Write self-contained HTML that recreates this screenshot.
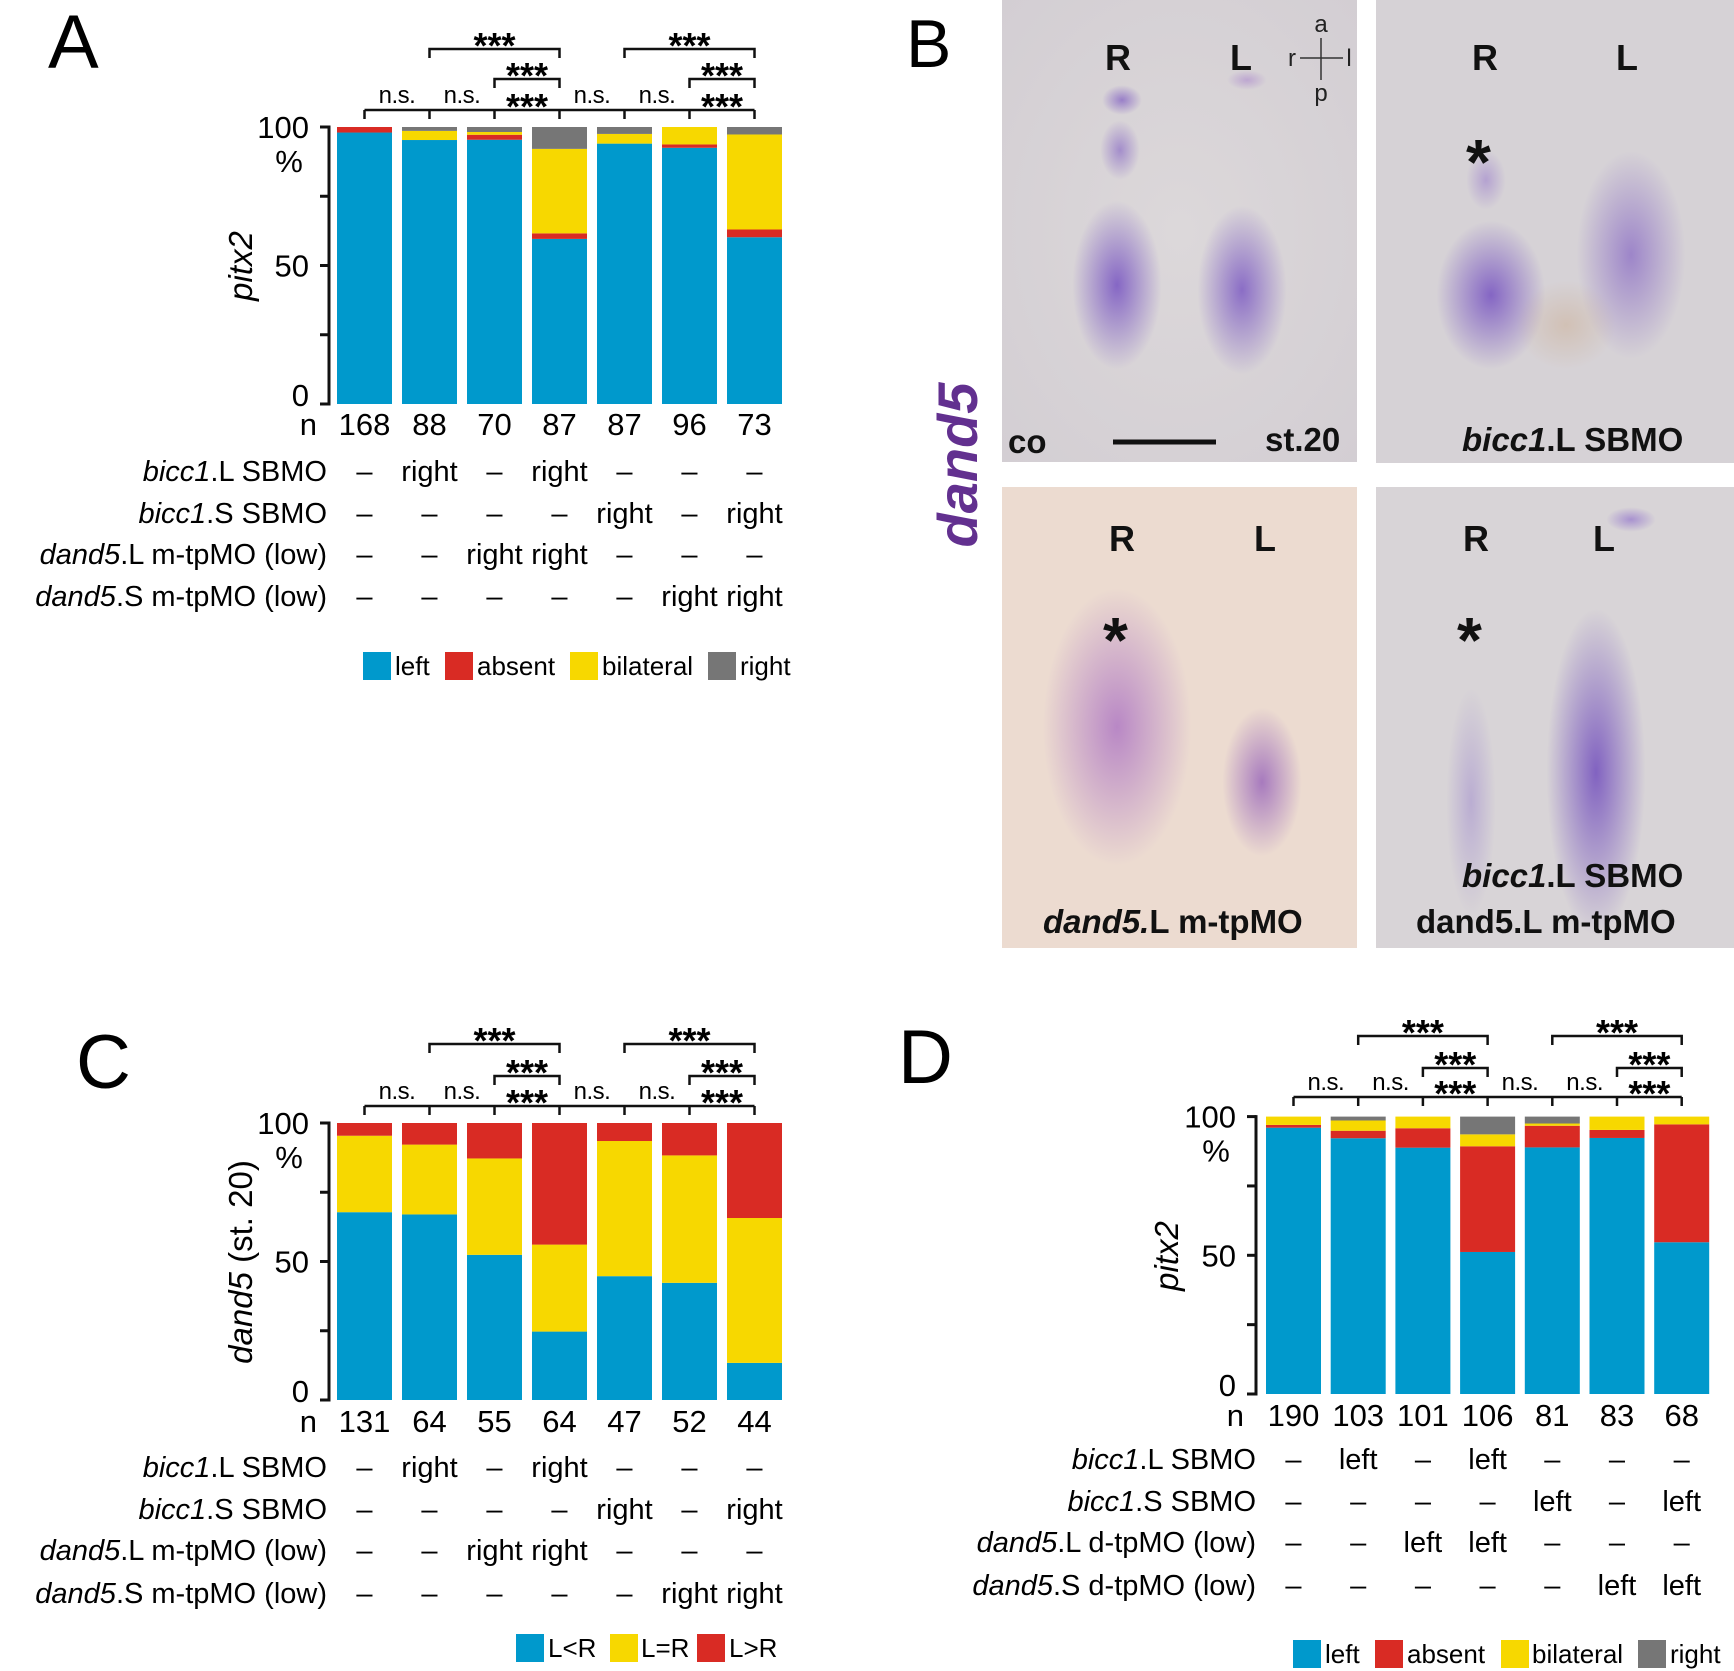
<!DOCTYPE html>
<html><head><meta charset="utf-8">
<style>
html,body{margin:0;padding:0;background:#fff;}
body{width:1734px;height:1671px;position:relative;overflow:hidden;font-family:"Liberation Sans",Arial,sans-serif;}
svg{position:absolute;left:0;top:0;}
.panel{position:absolute;overflow:hidden;}
.blob{position:absolute;border-radius:50%;}
.lbl{position:absolute;font-family:"Liberation Sans",sans-serif;font-weight:bold;color:#111;line-height:1;white-space:nowrap;}
</style></head>
<body>
<div class="panel" style="left:1002px;top:0;width:355px;height:462px;background:radial-gradient(ellipse at 50% 50%,#dcd8da,#d3ced3);">
  <div class="blob" style="left:100px;top:85px;width:40px;height:30px;background:radial-gradient(rgba(110,70,190,.6),rgba(110,70,190,0) 70%);"></div>
  <div class="blob" style="left:98px;top:120px;width:40px;height:60px;background:radial-gradient(rgba(110,70,190,.5),rgba(110,70,190,0) 70%);"></div>
  <div class="blob" style="left:70px;top:200px;width:90px;height:170px;background:radial-gradient(rgba(105,65,190,.75),rgba(110,70,190,0) 70%);"></div>
  <div class="blob" style="left:195px;top:205px;width:90px;height:170px;background:radial-gradient(rgba(105,65,190,.7),rgba(110,70,190,0) 70%);"></div>
  <div class="blob" style="left:225px;top:70px;width:40px;height:20px;background:radial-gradient(rgba(150,100,200,.4),rgba(150,100,200,0) 70%);"></div>
</div>
<div class="panel" style="left:1376px;top:0;width:358px;height:463px;background:#d6d2d6;">
  <div class="blob" style="left:60px;top:220px;width:110px;height:150px;background:radial-gradient(rgba(105,65,190,.75),rgba(110,70,190,0) 70%);"></div>
  <div class="blob" style="left:90px;top:150px;width:40px;height:60px;background:radial-gradient(rgba(130,90,200,.4),rgba(130,90,200,0) 70%);"></div>
  <div class="blob" style="left:200px;top:150px;width:110px;height:210px;background:radial-gradient(rgba(110,70,190,.55),rgba(110,70,190,0) 70%);"></div>
  <div class="blob" style="left:140px;top:280px;width:100px;height:90px;background:radial-gradient(rgba(200,160,120,.35),rgba(200,160,120,0) 70%);"></div>
</div>
<div class="panel" style="left:1002px;top:487px;width:355px;height:461px;background:#ecdbd0;">
  <div class="blob" style="left:40px;top:100px;width:150px;height:280px;background:radial-gradient(rgba(150,80,190,.6),rgba(150,80,190,0) 70%);"></div>
  <div class="blob" style="left:220px;top:220px;width:80px;height:150px;background:radial-gradient(rgba(130,70,180,.65),rgba(130,70,180,0) 70%);"></div>
</div>
<div class="panel" style="left:1376px;top:487px;width:358px;height:461px;background:#d8d4d7;">
  <div class="blob" style="left:170px;top:120px;width:100px;height:330px;background:radial-gradient(rgba(100,60,185,.75),rgba(110,70,190,0) 70%);"></div>
  <div class="blob" style="left:230px;top:20px;width:50px;height:25px;background:radial-gradient(rgba(120,80,200,.5),rgba(120,80,200,0) 70%);"></div>
  <div class="blob" style="left:70px;top:200px;width:50px;height:230px;background:radial-gradient(rgba(130,100,200,.35),rgba(130,100,200,0) 70%);"></div>
</div>
<div class="lbl" style="left:1105px;top:40px;font-size:36px;">R</div>
<div class="lbl" style="left:1230px;top:40px;font-size:36px;">L</div>
<div class="lbl" style="left:1472px;top:40px;font-size:36px;">R</div>
<div class="lbl" style="left:1616px;top:40px;font-size:36px;">L</div>
<div class="lbl" style="left:1109px;top:521px;font-size:36px;">R</div>
<div class="lbl" style="left:1254px;top:521px;font-size:36px;">L</div>
<div class="lbl" style="left:1463px;top:521px;font-size:36px;">R</div>
<div class="lbl" style="left:1593px;top:521px;font-size:36px;">L</div>
<div class="lbl" style="left:1466px;top:130px;font-size:64px;">*</div>
<div class="lbl" style="left:1103px;top:608px;font-size:64px;">*</div>
<div class="lbl" style="left:1457px;top:608px;font-size:64px;">*</div>
<div class="lbl" style="left:1008px;top:425px;font-size:33px;">co</div>
<div class="lbl" style="left:1265px;top:423px;font-size:33px;">st.20</div>
<div class="lbl" style="left:1462px;top:423px;font-size:33px;"><i>bicc1</i>.L SBMO</div>
<div class="lbl" style="left:1043px;top:905px;font-size:33px;"><i>dand5.</i>L m-tpMO</div>
<div class="lbl" style="left:1462px;top:859px;font-size:33px;"><i>bicc1</i>.L SBMO</div>
<div class="lbl" style="left:1416px;top:905px;font-size:33px;">dand5.L m-tpMO</div>

<svg id="fig" width="1734" height="1671" xmlns="http://www.w3.org/2000/svg" font-family="Liberation Sans, Arial, sans-serif">
  <text x="48" y="68" font-size="76">A</text>
  <text x="906" y="67" font-size="68">B</text>
  <text x="76" y="1088" font-size="76">C</text>
  <text x="898" y="1083" font-size="76">D</text>
  <text transform="translate(977,465) rotate(-90)" text-anchor="middle" font-size="56" font-weight="bold" font-style="italic" fill="#62308f">dand5</text>
  <g><line x1="1113" y1="442" x2="1216" y2="442" stroke="#111" stroke-width="5"/></g>
  <g font-size="24" fill="#222">
    <line x1="1300" y1="58" x2="1343" y2="58" stroke="#333" stroke-width="1.5"/>
    <line x1="1321" y1="38" x2="1321" y2="80" stroke="#333" stroke-width="1.5"/>
    <text x="1321" y="32" text-anchor="middle">a</text>
    <text x="1321" y="101" text-anchor="middle">p</text>
    <text x="1292" y="66" text-anchor="middle">r</text>
    <text x="1349" y="66" text-anchor="middle">l</text>
  </g>
  <g id="chartA"></g>
  <g id="chartC"></g>
  <g id="chartD"></g>
</svg>
<script>
const catsA = ["1","2","3","4","5","6","7"];
const nA = ["168","88","70","87","87","96","73"];
const leftA = [98, 95.3, 95.4, 59.6, 94, 92.5, 60.2];
const absentA = [2, 0, 1.8, 2, 0, 1.2, 2.8];
const bilatA = [0, 3.3, 1, 30.5, 3.5, 6.3, 34.3];
const rightA = [0, 1.4, 1.8, 7.9, 2.5, 0, 2.7];
const nC = ["131","64","55","64","47","52","44"];
const ltrC = [67.8, 67.0, 52.4, 24.7, 44.7, 42.3, 13.4];
const eqC = [27.6, 25.2, 34.8, 31.4, 48.8, 46.0, 52.3];
const gtrC = [4.6, 7.8, 12.8, 43.9, 6.5, 11.7, 34.3];
const nD = ["190","103","101","106","81","83","68"];
const leftD = [96, 92.2, 88.8, 51.2, 88.9, 92.3, 54.7];
const absentD = [1, 2.7, 7.0, 38.1, 7.8, 2.9, 42.5];
const bilatD = [3, 3.7, 4.2, 4.3, 0.8, 4.8, 2.8];
const rightD = [0, 1.4, 0, 6.4, 2.5, 0, 0];
const yTicks = [0, 25, 50, 75, 100];
const yTickLabels = ["0", "", "50", "", "100"];
const lowerLabels = ["n.s.","n.s.","***","n.s.","n.s.","***"];
const rowsRight = [
  ["–","right","–","right","–","–","–"],
  ["–","–","–","–","right","–","right"],
  ["–","–","right","right","–","–","–"],
  ["–","–","–","–","–","right","right"]];
const rowsLeft = [
  ["–","left","–","left","–","–","–"],
  ["–","–","–","–","left","–","left"],
  ["–","–","left","left","–","–","–"],
  ["–","–","–","–","–","left","left"]];

const NS = "http://www.w3.org/2000/svg";
const COL = {blue:"#0099cc", red:"#d92b24", yellow:"#f7d800", grey:"#767676"};
function mk(parent, tag, attrs, txt){
  const e = document.createElementNS(NS, tag);
  for (const k in attrs) e.setAttribute(k, attrs[k]);
  if (txt !== undefined) e.textContent = txt;
  parent.appendChild(e);
  return e;
}
function chart(g, cfg){
  const yScale = v => cfg.y0 - (cfg.y0 - cfg.y100) * v / 100;
  const xCenter = i => cfg.x0 + cfg.bw/2 + i * cfg.pitch;
  cfg.series.forEach((s, si) => {
    s.vals.forEach((v, i) => {
      let base = 0;
      for (let k = 0; k < si; k++) base += cfg.series[k].vals[i];
      if (v <= 0) return;
      const r = mk(g, "rect", {x: cfg.x0 + i*cfg.pitch, y: yScale(base+v), width: cfg.bw, height: yScale(base)-yScale(base+v), fill: s.color});
      
      
    });
  });
  const ax = mk(g, "g", {stroke:"#111", "stroke-width":3});
  
  
  mk(ax, "line", {x1: cfg.ax, y1: yScale(100)-1.5, x2: cfg.ax, y2: yScale(0)+1.5});
  yTicks.forEach((t, i) => {
    mk(ax, "line", {x1: cfg.ax-9, y1: yScale(t), x2: cfg.ax, y2: yScale(t)});
    if (yTickLabels[i]) {
      const dy = t === 0 ? 2 : 11;
      const tl = mk(g, "text", {x: cfg.ax-20, y: yScale(t)+dy, "text-anchor":"end", "font-size":31}, yTickLabels[i]);
      
      
    }
  });
  const pc = mk(g, "text", {x: cfg.ax-40, y: yScale(100)+45, "text-anchor":"middle", "font-size":31}, "%");
  
  
  const yt = mk(g, "text", {transform:`translate(${cfg.ytx},${cfg.yty}) rotate(-90)`, "text-anchor":"middle", "font-size":33});
  
  
  mk(yt, "tspan", {"font-style":"italic"}, cfg.ytitle[0]);
  if (cfg.ytitle[1]) mk(yt, "tspan", {}, cfg.ytitle[1]);
  const nl = mk(g, "text", {x: cfg.ax-12, y: cfg.nY+11, "text-anchor":"end", "font-size":31}, "n");
  
  
  cfg.n.forEach((v, i) => {
    const t = mk(g, "text", {x: xCenter(i), y: cfg.nY+11, "text-anchor":"middle", "font-size":31}, v);
    
    
  });
  const br = mk(g, "g", {stroke:"#111", "stroke-width":2.5, fill:"none"});
  
  
  const L1 = cfg.lv[0], L2 = cfg.lv[1], L3 = cfg.lv[2];
  mk(br, "line", {x1: xCenter(0), y1: L1, x2: xCenter(6), y2: L1});
  for (let i = 0; i < 7; i++) mk(br, "line", {x1: xCenter(i), y1: L1, x2: xCenter(i), y2: L1+9});
  lowerLabels.forEach((lab, i) => {
    const mx = (xCenter(i)+xCenter(i+1))/2;
    const t = lab === "***"
      ? mk(g, "text", {x: mx, y: L1+9, "text-anchor":"middle", "font-size":36, "font-weight":"bold"}, lab)
      : mk(g, "text", {x: mx, y: L1-7, "text-anchor":"middle", "font-size":24, "letter-spacing":"-0.5"}, lab);
    
    
  });
  [[2,3,L2],[5,6,L2],[1,3,L3],[4,6,L3]].forEach(([a,b,L]) => {
    mk(br, "path", {d:`M${xCenter(a)},${L+9} V${L} H${xCenter(b)} V${L+9}`});
    const t = mk(g, "text", {x:(xCenter(a)+xCenter(b))/2, y: L+9, "text-anchor":"middle", "font-size":36, "font-weight":"bold"}, "***");
    
    
  });
  cfg.rowLabels.forEach((rl, r) => {
    const y = cfg.rowY[r] + 10;
    const t = mk(g, "text", {x: cfg.labR, y: y, "text-anchor":"end", "font-size":29});
    
    
    mk(t, "tspan", {"font-style":"italic"}, rl[0]);
    mk(t, "tspan", {}, rl[1]);
    cfg.rows[r].forEach((v, i) => {
      const c = mk(g, "text", {x: xCenter(i), y: y, "text-anchor":"middle", "font-size":29}, v);
      
      
    });
  });
  cfg.legend.forEach(([x, tx, color, label]) => {
    const lg = mk(g, "g", {});
    
    
    mk(lg, "rect", {x: x, y: cfg.legY-14, width: 28, height: 28, fill: color});
    mk(lg, "text", {x: tx, y: cfg.legY+9, "font-size":26}, label);
  });
}

chart(document.getElementById("chartA"), {
  x0:337, bw:55, pitch:65, ax:329, y100:127, y0:404, nY:424,
  lv:[110, 79, 49], ytx:252, yty:266, ytitle:["pitx2",""],
  series:[{name:"left",vals:leftA,color:COL.blue},{name:"absent",vals:absentA,color:COL.red},{name:"bilateral",vals:bilatA,color:COL.yellow},{name:"right",vals:rightA,color:COL.grey}],
  n:nA, labR:327, rowY:[471,513,554,596],
  rowLabels:[["bicc1",".L SBMO"],["bicc1",".S SBMO"],["dand5",".L m-tpMO (low)"],["dand5",".S m-tpMO (low)"]],
  rows:rowsRight, legY:666,
  legend:[[363,395,COL.blue,"left"],[445,477,COL.red,"absent"],[570,602,COL.yellow,"bilateral"],[708,740,COL.grey,"right"]]
});
chart(document.getElementById("chartC"), {
  x0:337, bw:55, pitch:65, ax:329, y100:1123, y0:1400, nY:1421,
  lv:[1106, 1076, 1044], ytx:252, yty:1262, ytitle:["dand5"," (st. 20)"],
  series:[{name:"l-less-r",vals:ltrC,color:COL.blue},{name:"l-equal-r",vals:eqC,color:COL.yellow},{name:"l-greater-r",vals:gtrC,color:COL.red}],
  n:nC, labR:327, rowY:[1467,1509,1550,1593],
  rowLabels:[["bicc1",".L SBMO"],["bicc1",".S SBMO"],["dand5",".L m-tpMO (low)"],["dand5",".S m-tpMO (low)"]],
  rows:rowsRight, legY:1648,
  legend:[[516,548,COL.blue,"L<R"],[610,641,COL.yellow,"L=R"],[697,729,COL.red,"L>R"]]
});
chart(document.getElementById("chartD"), {
  x0:1266, bw:55, pitch:64.7, ax:1256, y100:1116.6, y0:1394, nY:1415,
  lv:[1097, 1068, 1036], ytx:1178, yty:1256, ytitle:["pitx2",""],
  series:[{name:"left",vals:leftD,color:COL.blue},{name:"absent",vals:absentD,color:COL.red},{name:"bilateral",vals:bilatD,color:COL.yellow},{name:"right",vals:rightD,color:COL.grey}],
  n:nD, labR:1256, rowY:[1459,1501,1542,1585],
  rowLabels:[["bicc1",".L SBMO"],["bicc1",".S SBMO"],["dand5",".L d-tpMO (low)"],["dand5",".S d-tpMO (low)"]],
  rows:rowsLeft, legY:1654,
  legend:[[1293,1325,COL.blue,"left"],[1375,1407,COL.red,"absent"],[1501,1532,COL.yellow,"bilateral"],[1638,1670,COL.grey,"right"]]
});
</script>
</body></html>
